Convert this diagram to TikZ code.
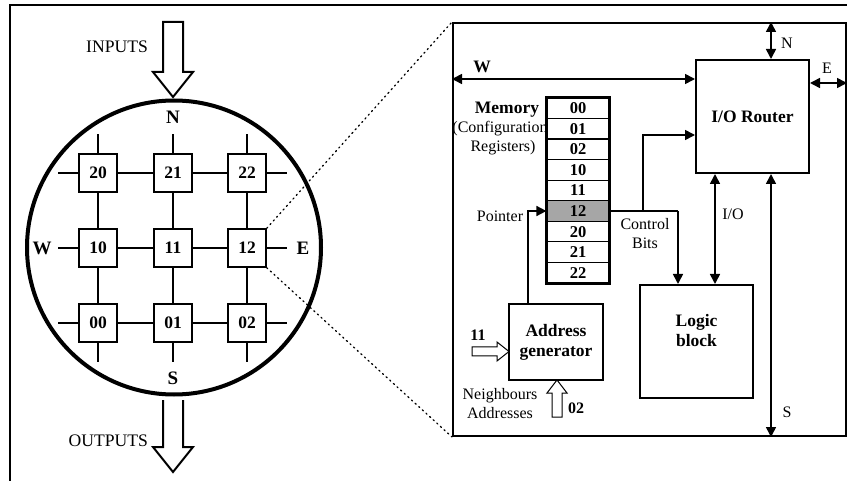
\documentclass[tikz,border=0pt]{standalone}
\usepackage{fontspec}
\setmainfont{Liberation Serif}
\usetikzlibrary{arrows.meta,calc}
\definecolor{memgray}{RGB}{166,166,166}

\begin{document}
\begin{tikzpicture}[x=1pt,y=-1pt,
  txt/.style={font=\fontsize{16}{19}\selectfont, inner sep=0pt, align=center},
  bigtxt/.style={font=\fontsize{17.6}{19}\selectfont, inner sep=0pt},
  btxt/.style={font=\bfseries\fontsize{17.5}{20}\selectfont, inner sep=0pt, align=center},
  compass/.style={font=\bfseries\fontsize{19}{19}\selectfont, inner sep=0pt},
  cell/.style={draw, line width=1.6pt, fill=white, minimum size=38pt, inner sep=0pt,
               font=\bfseries\fontsize{17.5}{17.5}\selectfont},
  gridlink/.style={line width=1.6pt},
  memcell/.style={draw, line width=1.2pt, minimum width=62pt, minimum height=20.55pt,
                  inner sep=0pt, font=\bfseries\fontsize{16.5}{16.5}\selectfont},
  blockbox/.style={draw, line width=2pt, inner sep=0pt},
  wire/.style={line width=1.6pt},
  onearrow/.style={wire, -{Triangle[length=10pt,width=10pt]}},
  dblarrow/.style={wire, {Triangle[length=10pt,width=10pt]}-{Triangle[length=10pt,width=10pt]}},
  fatarrow/.style={draw, line width=2pt, fill=white, line join=miter},
  thinfat/.style={draw, line width=1pt, fill=white, line join=miter},
  digits/.style={font=\bfseries\fontsize{16}{16}\selectfont, inner sep=0pt},
  zoomline/.style={line width=1.3pt, dash pattern=on 1.3pt off 3.6pt, line cap=round}
]
\useasboundingbox (0,0) rectangle (847,481);

% outer frame
\draw[line width=2pt] (10,481) -- (10,5) -- (847,5);

% ---------------- array of cells ----------------
\node[draw, circle, line width=4pt, minimum size=294pt, inner sep=0pt] (ring) at (174,247.5) {};

\node[cell] (c20) at (98,173)  {20};
\node[cell] (c21) at (173,173) {21};
\node[cell] (c22) at (247,173) {22};
\node[cell] (c10) at (98,248)  {10};
\node[cell] (c11) at (173,248) {11};
\node[cell] (c12) at (247,248) {12};
\node[cell] (c00) at (98,323)  {00};
\node[cell] (c01) at (173,323) {01};
\node[cell] (c02) at (247,323) {02};

% links between neighbours
\foreach \r in {2,1,0}{
  \draw[gridlink] (c\r0) -- (c\r1);
  \draw[gridlink] (c\r1) -- (c\r2);
  \draw[gridlink] (c\r0.west) -- ++(-20,0) coordinate (west\r);
  \draw[gridlink] (c\r2.east) -- ++(20,0) coordinate (east\r);
}
\foreach \c in {0,1,2}{
  \draw[gridlink] (c2\c) -- (c1\c);
  \draw[gridlink] (c1\c) -- (c0\c);
  \draw[gridlink] (c2\c.north) -- ++(0,-19) coordinate (north\c);
  \draw[gridlink] (c0\c.south) -- ++(0,19) coordinate (south\c);
}

\node[compass] (lN) at (173,117) {N};
\node[compass] (lS) at (173,378) {S};
\node[compass] (lW) at (42,248)  {W};
\node[compass] (lE) at (303,248) {E};

% inputs / outputs
\draw[fatarrow] (163,22) -- (183,22) -- (183,72) -- (193,72) -- (173,97)
  -- (153,72) -- (163,72) -- cycle;
\node[bigtxt, anchor=east] (inputs) at (148,47) {INPUTS};
\draw[fatarrow] (163,400) -- (163,447) -- (153,447) -- (173,472) -- (193,447)
  -- (183,447) -- (183,400);
\node[bigtxt, anchor=east] (outputs) at (148,441) {OUTPUTS};

% ---------------- detail of one cell ----------------
\node[blockbox, minimum width=393pt, minimum height=413pt] (panel) at (649.5,229.5) {};

\draw[zoomline] (c12.north east) -- (panel.north west);
\draw[zoomline] (c12.south east) -- (panel.south west);

\node[blockbox, minimum size=113pt, btxt] (router) at (752.5,116.5) {I/O Router};
\node[blockbox, minimum size=113pt] (logic) at (696.5,341.5) {};
\node[btxt] (logictext) at ($(logic.center)+(0,-11)$) {Logic\\block};
\node[blockbox, minimum width=94pt, minimum height=76pt, btxt] (addr) at (556,342)
  {Address\\generator};

% configuration memory
\node[memcell] (m00) at (578,108.3) {00};
\node[memcell] (m01) at (578,128.8) {01};
\node[memcell] (m02) at (578,149.4) {02};
\node[memcell] (m10) at (578,169.9) {10};
\node[memcell] (m11) at (578,190.5) {11};
\node[memcell, fill=memgray] (m12) at (578,211.0) {12};
\node[memcell] (m20) at (578,231.6) {20};
\node[memcell] (m21) at (578,252.1) {21};
\node[memcell] (m22) at (578,272.7) {22};
\draw[line width=2pt] (m00.north west) rectangle (m22.south east);

\node[btxt] (memlabel) at (507,110) {Memory};
\node[txt] (conf1) at (500,128.5) {(Configuration};
\node[txt] (conf2) at (503,148) {Registers)};

% compass ports of the router
\coordinate (nx) at (771,0);
\coordinate (ey) at (0,83);
\coordinate (wy) at (0,79);
\draw[dblarrow] (nx |- panel.north) -- (nx |- router.north);
\draw[dblarrow] (router.east |- ey) -- (panel.east |- ey);
\draw[dblarrow] (panel.west |- wy) -- (router.west |- wy);
\draw[dblarrow] (nx |- router.south) -- (nx |- panel.south);
\node[txt] (pN) at (787,43) {N};
\node[txt] (pE) at (827,68) {E};
\node[txt] (pS) at (787,412) {S};
\node[btxt] (pW) at (482,67) {W};

% router <-> logic block
\coordinate (iox) at (715,0);
\draw[dblarrow] (iox |- router.south) -- (iox |- logic.north);
\node[txt] (iolabel) at (733,214) {I/O};

% control bits
\coordinate (cbx) at (678,211);
\coordinate (brx) at (643,211);
\coordinate (riny) at (0,135);
\draw[wire] (m12.east) -- (cbx);
\draw[onearrow] (cbx) -- (cbx |- logic.north);
\draw[onearrow] (brx) |- (router.west |- riny);
\node[txt] (cbits) at (645,233.5) {Control\\Bits};

% pointer
\coordinate (ptrx) at (528,0);
\draw[onearrow] (ptrx |- addr.north) |- (m12.west);
\node[txt] (ptrlabel) at (500,216) {Pointer};

% address inputs
\draw[thinfat] (472,347) -- (497,347) -- (497,342) -- (509,351.5) -- (497,361)
  -- (497,356) -- (472,356) -- cycle;
\node[digits] (in11) at (478,335) {11};
\draw[thinfat] (552,417) -- (552,393) -- (547,393) -- (557,380) -- (567,393)
  -- (562,393) -- (562,417) -- cycle;
\node[digits] (in02) at (576,408) {02};
\node[txt] (neigh) at (500,403.5) {Neighbours\\Addresses};
\end{tikzpicture}
\end{document}
